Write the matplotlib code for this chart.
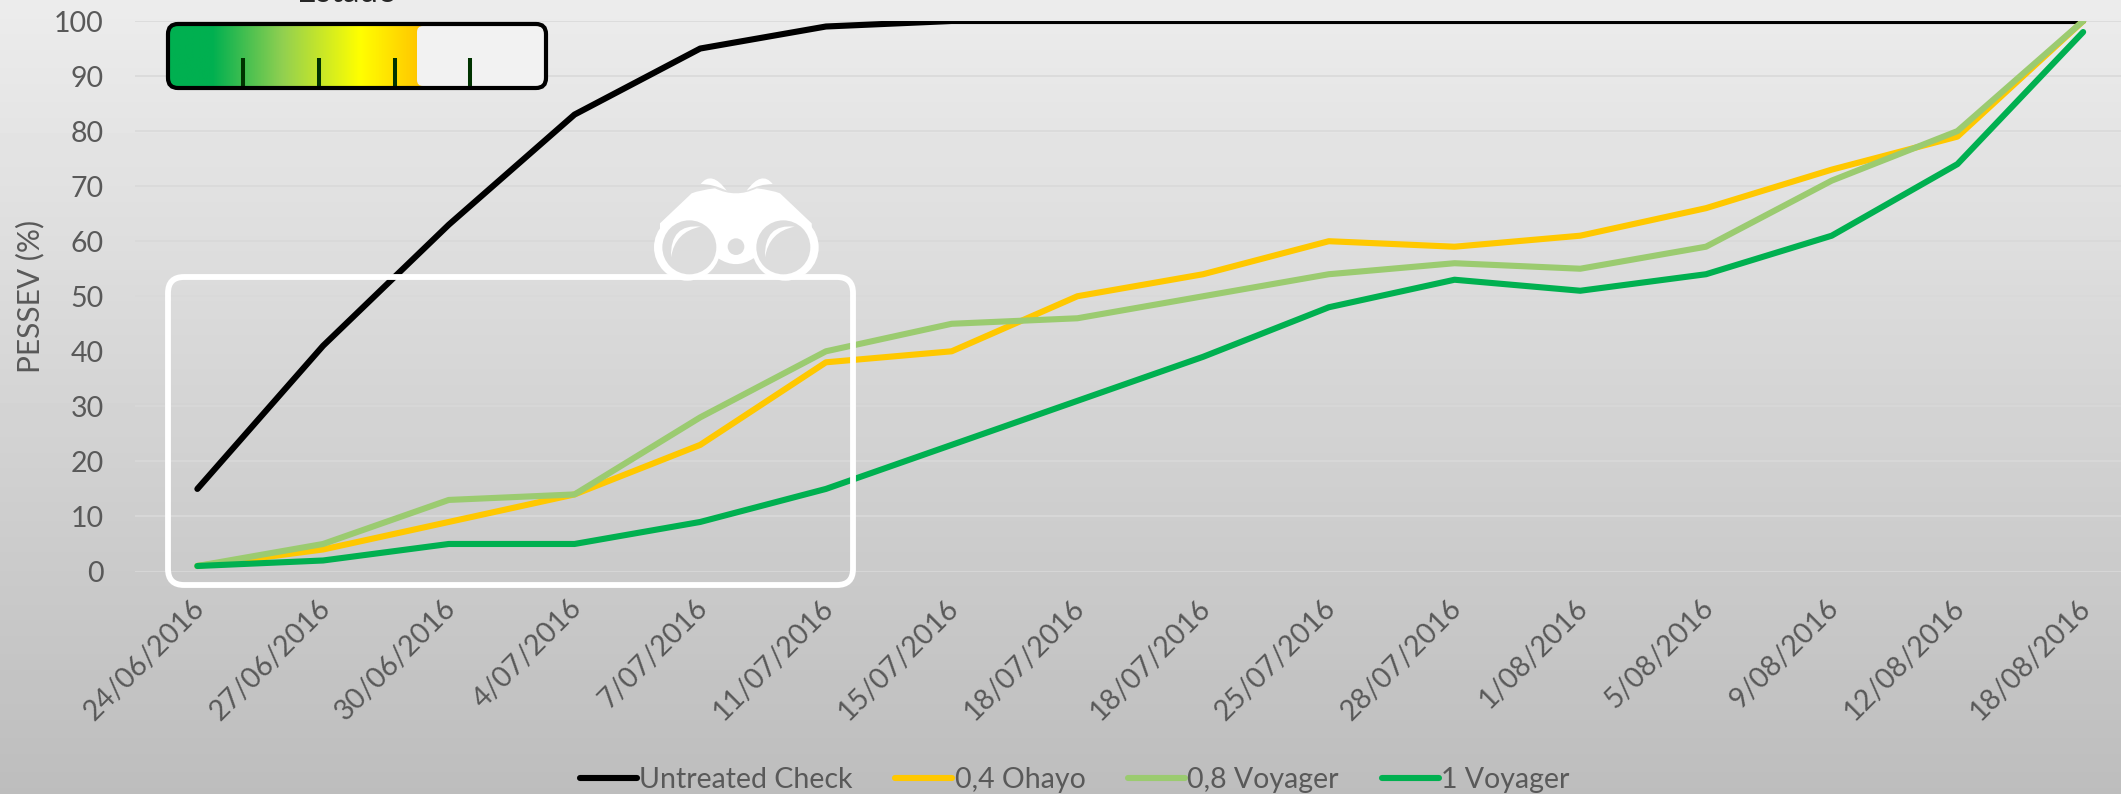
import matplotlib
matplotlib.use("Agg")
import matplotlib.pyplot as plt
import numpy as np
from matplotlib.colors import LinearSegmentedColormap
from matplotlib.patches import Circle, FancyBboxPatch, PathPatch
from matplotlib.path import Path
from matplotlib.transforms import ScaledTranslation

# ====== DATA ======
dates = ["24/06/2016", "27/06/2016", "30/06/2016", "4/07/2016", "7/07/2016", "11/07/2016",
         "15/07/2016", "18/07/2016", "18/07/2016", "25/07/2016", "28/07/2016", "1/08/2016",
         "5/08/2016", "9/08/2016", "12/08/2016", "18/08/2016"]
untreated = [15, 41, 63, 83, 95, 99, 100, 100, 100, 100, 100, 100, 100, 100, 100, 100]
ohayo_04 = [1, 4, 9, 14, 23, 38, 40, 50, 54, 60, 59, 61, 66, 73, 79, 100]
voyager_08 = [1, 5, 13, 14, 28, 40, 45, 46, 50, 54, 56, 55, 59, 71, 80, 100]
voyager_1 = [1, 2, 5, 5, 9, 15, 23, 31, 39, 48, 53, 51, 54, 61, 74, 98]

W, H = 2121, 794
TEXT = "#595959"
plt.rcParams["font.family"] = ["Lato", "DejaVu Sans"]

fig = plt.figure(figsize=(W / 100, H / 100), dpi=100)


def bg_at(y):
    # grey of the page gradient at pixel row y
    v = (236 + (189 - 236) * y / H) / 255
    return (v, v, v)


# page gradient
bg = fig.add_axes([0, 0, 1, 1], zorder=0)
bg.imshow(np.linspace(236, 189, 256).reshape(-1, 1), cmap="gray", vmin=0, vmax=255,
          aspect="auto", extent=[0, W, H, 0])
bg.axis("off")

# chart, runs off the right edge of the picture like the original
left, right, top, bottom = 134.5, 2146, 21, 571.5
ax = fig.add_axes([left / W, 1 - bottom / H, (right - left) / W, (bottom - top) / H], zorder=1)
ax.patch.set_alpha(0)
x = list(range(len(dates)))
lw = 4.4
ax.plot(x, untreated, color="black", lw=lw, label="Untreated Check", solid_capstyle="round")
ax.plot(x, ohayo_04, color="#FFC800", lw=lw, label="0,4 Ohayo", solid_capstyle="round")
ax.plot(x, voyager_08, color="#9BCB70", lw=lw, label="0,8 Voyager", solid_capstyle="round")
ax.plot(x, voyager_1, color="#00B050", lw=lw, label="1 Voyager", solid_capstyle="round")

ax.set_xlim(-0.5, len(dates) - 0.5)
ax.set_ylim(0, 100)
ax.set_yticks(range(0, 101, 10))
ax.set_xticks(x)
ax.set_xticklabels(dates, rotation=45, ha="right", va="top", rotation_mode="anchor")
ax.tick_params(axis="both", length=0, labelsize=20.5, labelcolor=TEXT)
ax.tick_params(axis="y", pad=22)
ax.tick_params(axis="x", pad=14)
shift = ScaledTranslation(-6 / 100, -4 / 100, fig.dpi_scale_trans)
for lab in ax.get_xticklabels():
    lab.set_transform(lab.get_transform() + shift)
ax.grid(True, axis="y", color="#D9D9D9", lw=1.2)
ax.set_axisbelow(True)
for s in ax.spines.values():
    s.set_visible(False)
fig.text(30 / W, 1 - 296 / H, "PESSEV (%)", rotation=90, ha="center", va="center",
         fontsize=21.5, color=TEXT)

leg = fig.legend(loc="center left", bbox_to_anchor=(580 / W, 1 - 780 / H), ncol=4, frameon=False,
                 fontsize=20.5, labelcolor=TEXT, handlelength=2.0, handletextpad=0.08,
                 columnspacing=1.5, borderpad=0, borderaxespad=0)

# overlay shapes in pixel coordinates
ov = fig.add_axes([0, 0, 1, 1], zorder=2)
ov.set_xlim(0, W)
ov.set_ylim(H, 0)
ov.axis("off")
ov.patch.set_alpha(0)

# white zoom box
ov.add_patch(FancyBboxPatch((168 + 15, 277 + 15), 853 - 168 - 30, 585 - 277 - 30,
                            boxstyle="round,pad=15,rounding_size=16",
                            fc="none", ec="white", lw=4.2))


def b(px, py):
    return (600 + px / 3, 160 + py / 3)


def shape(pts, codes, color="white"):
    ov.add_patch(PathPatch(Path([b(*p) for p in pts], codes), fc=color, ec="none"))


M, L, C3, Z = Path.MOVETO, Path.LINETO, Path.CURVE3, Path.CLOSEPOLY

# binoculars
shape([(180, 190), (275, 100), (300, 90), (345, 85), (408, 115), (470, 85), (515, 90),
       (540, 100), (635, 190), (640, 300), (460, 295), (408, 330), (355, 295), (180, 300), (180, 190)],
      [M, L, C3, C3, C3, C3, C3, C3, L, L, L, C3, C3, L, Z])
for cx in (262, 556):
    ov.add_patch(Circle(b(cx, 262), 100 / 3, fc="white", ec="none"))
for cx in (268, 550):
    ov.add_patch(Circle(b(cx, 262), 81 / 3, fc=bg_at(247), ec="none"))
    dx = cx - 268
    shape([(302 + dx, 200), (210 + dx, 190), (213 + dx, 292), (225 + dx, 215), (302 + dx, 200)],
          [M, C3, C3, C3, C3])
ov.add_patch(Circle(b(408, 260), 25 / 3, fc=bg_at(247), ec="none"))
shape([(302, 72), (335, 30), (380, 92), (340, 72), (302, 72)], [M, C3, C3, C3, C3])
shape([(518, 72), (485, 30), (440, 92), (480, 72), (518, 72)], [M, C3, C3, C3, C3])

# colour scale box
box = FancyBboxPatch((168 + 10, 24 + 10), 546 - 168 - 20, 88 - 24 - 20,
                     boxstyle="round,pad=10,rounding_size=10", fc="none", ec="none")
ov.add_patch(box)
stops = [(0.0, "#00B050"), ((212 - 168) / 378, "#00B050"), ((283 - 168) / 378, "#92D050"),
         ((360 - 168) / 378, "#FFFF00"), ((417 - 168) / 378, "#FFC800"), (1.0, "#FFC800")]
grad = LinearSegmentedColormap.from_list("scale", stops)
im = ov.imshow(np.linspace(0, 1, 512).reshape(1, -1), cmap=grad, aspect="auto",
               extent=[168, 546, 88, 24], zorder=2)
im.set_clip_path(box)
ov.add_patch(FancyBboxPatch((417 + 6, 26 + 6), 544 - 417 - 12, 86 - 26 - 12,
                            boxstyle="round,pad=6,rounding_size=6", fc="#F2F2F2", ec="none", zorder=3))
for tx in (243, 319, 394.5, 470):
    ov.plot([tx, tx], [58, 88], color="#003300", lw=2.9, solid_capstyle="butt", zorder=4)
ov.add_patch(FancyBboxPatch((168 + 10, 24 + 10), 546 - 168 - 20, 88 - 24 - 20,
                            boxstyle="round,pad=10,rounding_size=10", fc="none", ec="black",
                            lw=3, zorder=5))
ov.set_xlim(0, W)
ov.set_ylim(H, 0)

# title of the scale, cut by the top edge in the original
ov.text(347, 2, "Estado", ha="center", va="baseline", fontsize=24, color="#262626", clip_on=False)

fig.savefig("out.png", dpi=100)
plt.close(fig)
